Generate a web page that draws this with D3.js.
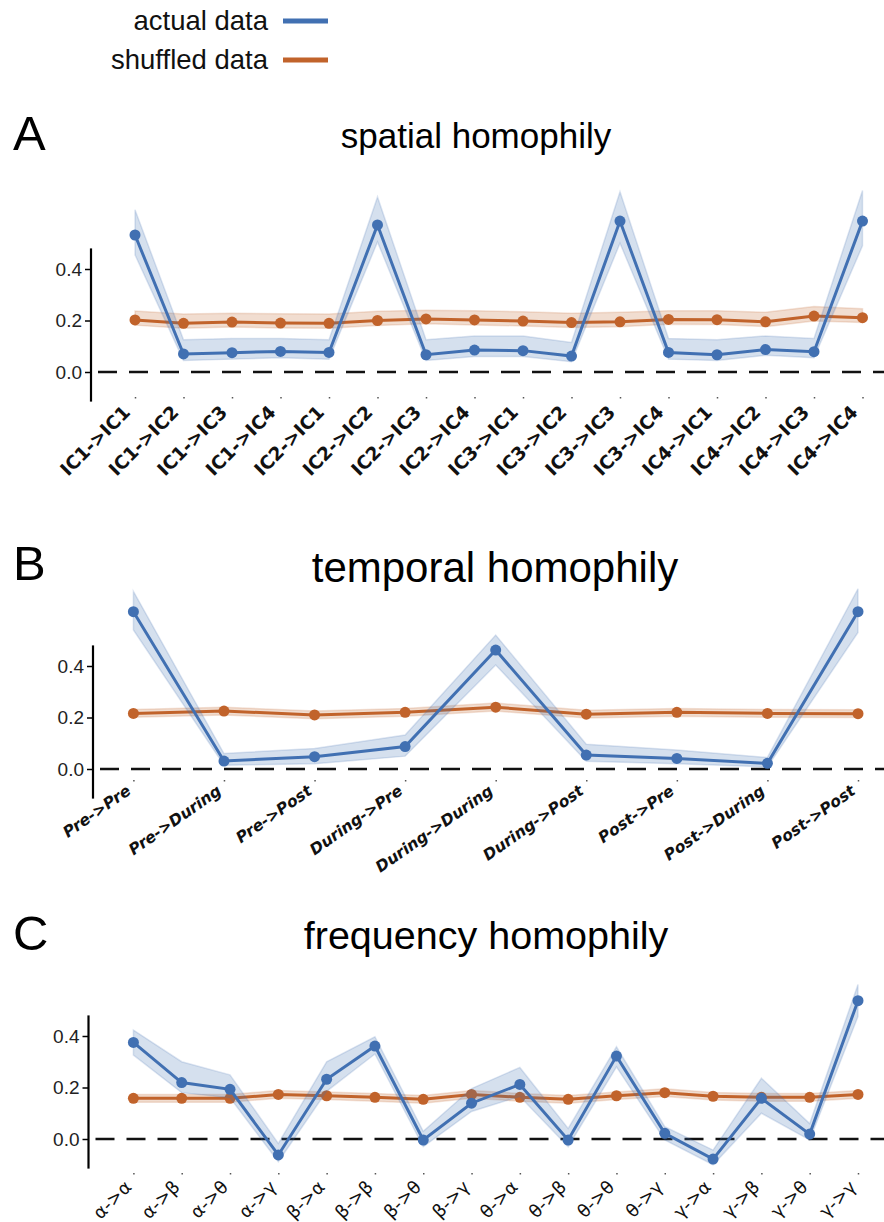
<!DOCTYPE html>
<html><head><meta charset="utf-8">
<script src="https://cdn.jsdelivr.net/npm/d3@7"></script>
<style>
html,body{margin:0;padding:0;background:#fff;}
svg{display:block;}
</style></head>
<body>
<svg id="chart" width="884" height="1222"></svg>
<script>
// ---------- data ----------
const catsA = ["IC1->IC1","IC1->IC2","IC1->IC3","IC1->IC4","IC2->IC1","IC2->IC2","IC2->IC3","IC2->IC4","IC3->IC1","IC3->IC2","IC3->IC3","IC3->IC4","IC4->IC1","IC4->IC2","IC4->IC3","IC4->IC4"];
const actualA   = [0.532,0.070,0.075,0.080,0.076,0.571,0.067,0.085,0.083,0.062,0.586,0.076,0.067,0.087,0.079,0.586];
const actualAHi = [0.630,0.125,0.130,0.130,0.125,0.680,0.125,0.140,0.140,0.115,0.700,0.130,0.125,0.140,0.130,0.705];
const actualALo = [0.455,0.045,0.050,0.055,0.050,0.505,0.045,0.060,0.060,0.040,0.500,0.050,0.045,0.065,0.055,0.490];
const shuffA    = [0.202,0.189,0.194,0.190,0.189,0.200,0.206,0.202,0.198,0.192,0.195,0.204,0.203,0.195,0.217,0.211];
const shuffAHi  = [0.237,0.225,0.228,0.226,0.225,0.236,0.240,0.238,0.234,0.228,0.232,0.238,0.238,0.232,0.254,0.246];
const shuffALo  = [0.182,0.170,0.175,0.171,0.170,0.181,0.187,0.183,0.179,0.173,0.176,0.185,0.184,0.176,0.198,0.192];

const catsB = ["Pre->Pre","Pre->During","Pre->Post","During->Pre","During->During","During->Post","Post->Pre","Post->During","Post->Post"];
const actualB   = [0.611,0.031,0.048,0.087,0.462,0.054,0.041,0.022,0.611];
const actualBHi = [0.690,0.060,0.080,0.132,0.520,0.096,0.074,0.045,0.700];
const actualBLo = [0.540,0.015,0.020,0.050,0.404,0.030,0.020,0.008,0.530];
const shuffB    = [0.216,0.225,0.210,0.220,0.240,0.213,0.220,0.216,0.215];
const shuffBHi  = [0.231,0.240,0.225,0.235,0.256,0.228,0.235,0.231,0.230];
const shuffBLo  = [0.201,0.210,0.195,0.205,0.225,0.198,0.205,0.201,0.200];

const catsC = ["α->α","α->β","α->θ","α->γ","β->α","β->β","β->θ","β->γ","θ->α","θ->β","θ->θ","θ->γ","γ->α","γ->β","γ->θ","γ->γ"];
const actualC   = [0.375,0.219,0.193,-0.062,0.232,0.361,-0.004,0.139,0.212,-0.004,0.322,0.022,-0.078,0.158,0.019,0.537];
const actualCHi = [0.423,0.300,0.249,-0.017,0.300,0.397,0.030,0.196,0.278,0.041,0.358,0.048,-0.043,0.236,0.060,0.600];
const actualCLo = [0.326,0.180,0.160,-0.088,0.185,0.330,-0.030,0.107,0.165,-0.030,0.280,-0.004,-0.100,0.100,-0.004,0.476];
const shuffC    = [0.158,0.158,0.158,0.173,0.168,0.162,0.154,0.173,0.162,0.154,0.168,0.180,0.166,0.162,0.162,0.173];
const shuffCHi  = [0.173,0.173,0.173,0.188,0.183,0.177,0.169,0.188,0.177,0.169,0.183,0.195,0.181,0.177,0.177,0.188];
const shuffCLo  = [0.143,0.143,0.143,0.158,0.153,0.147,0.139,0.158,0.147,0.139,0.153,0.165,0.151,0.147,0.147,0.158];

const yTicks = [0.0, 0.2, 0.4];
const legendLabels = ["actual data","shuffled data"];
const panelLetters = ["A","B","C"];
const panelTitles = ["spatial homophily","temporal homophily","frequency homophily"];

// ---------- styles ----------
const BLUE = "#4170b2", ORANGE = "#c1632b";
const SANS = "'Liberation Sans',Arial,sans-serif";
const svg = d3.select("#chart");

// legend
const leg = svg.append("g");
legendLabels.forEach((t,i)=>{
  const y = 21 + i*39;
  leg.append("text").attr("x",268).attr("y",y+9).attr("text-anchor","end")
    .attr("font-family",SANS).attr("font-size",27.5).attr("fill","#111").text(t);
  leg.append("line").attr("x1",283).attr("x2",328).attr("y1",y).attr("y2",y)
    .attr("stroke", i===0?BLUE:ORANGE).attr("stroke-width",5);
});

const panels = [
  {cats:catsA, act:actualA, actHi:actualAHi, actLo:actualALo, sh:shuffA, shHi:shuffAHi, shLo:shuffALo,
   x0:135, x1:862.5, yZero:372, axisX:91, letterY:150, titleY:148, titleSize:35, titleX:476,
   tickY:397, lblDx:-13, lblY:404, rot:-45, lblFont:"bold", lblStyle:"normal", lblSize:18.5},
  {cats:catsB, act:actualB, actHi:actualBHi, actLo:actualBLo, sh:shuffB, shHi:shuffBHi, shLo:shuffBLo,
   x0:133.4, x1:858, yZero:769, axisX:93, letterY:580, titleY:582, titleSize:42, titleX:495,
   tickY:780, lblDx:-8, lblY:784, rot:-35, lblFont:"bold", lblStyle:"italic", lblSize:15.7},
  {cats:catsC, act:actualC, actHi:actualCHi, actLo:actualCLo, sh:shuffC, shHi:shuffCHi, shLo:shuffCLo,
   x0:133.4, x1:858, yZero:1139, axisX:88.5, letterY:950, titleY:949, titleSize:39.5, titleX:486,
   tickY:1173, lblDx:-10, lblY:1179, rot:-45, lblFont:"normal", lblStyle:"normal", lblSize:18}
];

panels.forEach((p,pi)=>{
  const g = svg.append("g");
  const x = d3.scalePoint().domain(p.cats).range([p.x0,p.x1]);
  const y = d3.scaleLinear().domain([0,0.4]).range([p.yZero, p.yZero-103]);

  // letter & title
  g.append("text").attr("x",13).attr("y",p.letterY)
    .attr("font-family",SANS).attr("font-size",49).attr("fill","#000")
    .text(panelLetters[pi]);
  g.append("text").attr("x",p.titleX).attr("y",p.titleY).attr("text-anchor","middle")
    .attr("font-family",SANS).attr("font-size",p.titleSize).attr("fill","#000")
    .text(panelTitles[pi]);

  // y axis (trimmed spine)
  const yAxis = d3.axisLeft(y).tickValues(yTicks).tickFormat(d3.format(".1f")).tickSize(6).tickPadding(3);
  const ag = g.append("g").attr("transform",`translate(${p.axisX},0)`).call(yAxis);
  ag.select(".domain").remove();
  ag.selectAll(".tick line").attr("stroke","#000").attr("stroke-width",1.5);
  ag.selectAll(".tick text").attr("font-family",SANS).attr("font-size",19).attr("fill","#222");
  ag.append("line").attr("x1",0).attr("x2",0).attr("y1",y(0.48)).attr("y2",y(-0.115))
    .attr("stroke","#000").attr("stroke-width",2.2);

  // zero dashed line
  g.append("line").attr("x1",p.axisX+7).attr("x2",884).attr("y1",y(0)).attr("y2",y(0))
    .attr("stroke","#111").attr("stroke-width",2.5).attr("stroke-dasharray","19,12");

  // x axis: tiny ticks + rotated labels
  const xAxis = d3.axisBottom(x).tickSize(1.5).tickFormat("");
  const xg = g.append("g").attr("transform",`translate(0,${p.tickY})`).call(xAxis);
  xg.select(".domain").remove();
  xg.selectAll(".tick line").attr("stroke","#555").attr("stroke-width",1.5);
  g.selectAll(".xlbl").data(p.cats).enter().append("text")
    .attr("transform",d=>`translate(${x(d)+p.lblDx},${p.lblY}) rotate(${p.rot})`)
    .attr("text-anchor","end").attr("dy","0.72em")
    .attr("font-family","'DejaVu Sans',sans-serif").attr("font-size",p.lblSize)
    .attr("font-weight",p.lblFont).attr("font-style",p.lblStyle).attr("fill","#111")
    .text(d=>d);

  // series
  const series = [
    {v:p.sh, hi:p.shHi, lo:p.shLo, c:ORANGE},
    {v:p.act, hi:p.actHi, lo:p.actLo, c:BLUE}
  ];
  series.forEach(s=>{
    const pts = p.cats.map((c,i)=>({c, v:s.v[i], hi:s.hi[i], lo:s.lo[i]}));
    const area = d3.area().x(d=>x(d.c)).y0(d=>y(d.lo)).y1(d=>y(d.hi));
    g.append("path").attr("d",area(pts)).attr("fill",s.c).attr("fill-opacity",0.22)
      .attr("stroke",s.c).attr("stroke-opacity",0.18).attr("stroke-width",1.5);
    const line = d3.line().x(d=>x(d.c)).y(d=>y(d.v));
    g.append("path").attr("d",line(pts)).attr("fill","none").attr("stroke",s.c).attr("stroke-width",3);
    g.selectAll(null).data(pts).enter().append("circle")
      .attr("cx",d=>x(d.c)).attr("cy",d=>y(d.v)).attr("r",5.5).attr("fill",s.c);
  });
});
</script>
</body></html>
